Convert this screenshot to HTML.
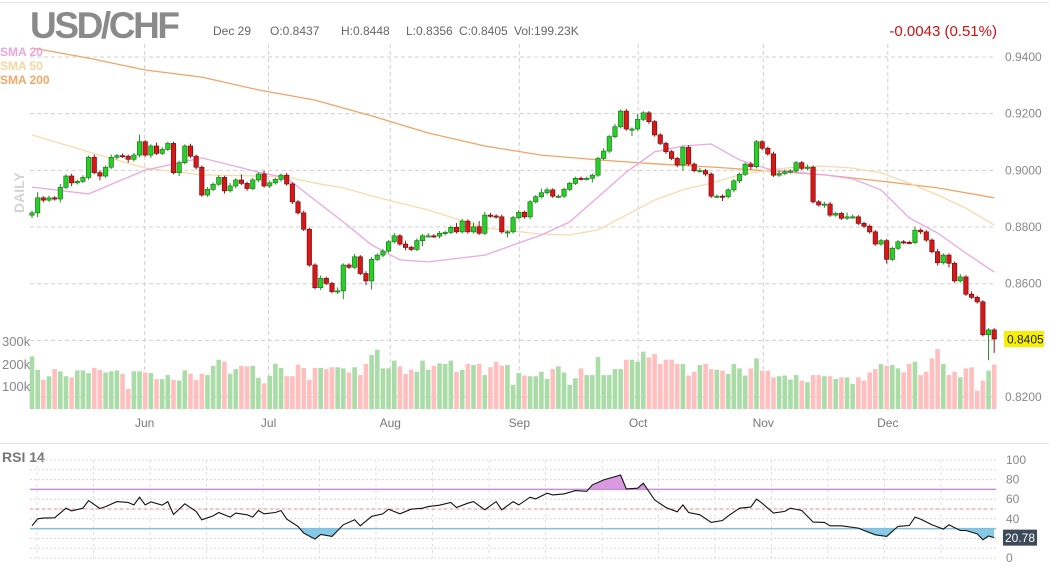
<!DOCTYPE html>
<html><head><meta charset="utf-8"><style>
html,body{margin:0;padding:0;background:#fff;width:1049px;height:573px;overflow:hidden}
svg{display:block;font-family:"Liberation Sans",sans-serif}
</style></head><body>
<svg id="chart" width="1049" height="573" viewBox="0 0 1049 573" xmlns="http://www.w3.org/2000/svg">
<line x1="0" y1="2.5" x2="1049" y2="2.5" stroke="#e6e6e6"/>
<g id="grid"></g>
<g id="vol"></g>
<g id="sma"></g>
<g id="candles"></g>
<text x="30" y="38" font-size="37" font-weight="bold" fill="#8a8a8a" textLength="150">USD/CHF</text>
<g font-size="12" fill="#666">
<text x="213" y="35">Dec 29</text>
<text x="270" y="35">O:0.8437</text>
<text x="341" y="35">H:0.8448</text>
<text x="406" y="35">L:0.8356</text>
<text x="459" y="35">C:0.8405</text>
<text x="514" y="35">Vol:199.23K</text>
</g>
<text x="997" y="36" text-anchor="end" font-size="15" fill="#cc1111">-0.0043 (0.51%)</text>
<g font-size="12" font-weight="bold">
<text x="0" y="56" fill="#eaa6dc">SMA 20</text>
<text x="0" y="70" fill="#f2d79e">SMA 50</text>
<text x="0" y="84" fill="#f2a766">SMA 200</text>
</g>
<text transform="translate(24,213) rotate(-90)" font-size="14" font-weight="bold" fill="#d4d4d4">DAILY</text>
<g font-size="13" fill="#888">
<text x="2" y="346">300k</text>
<text x="2" y="369">200k</text>
<text x="2" y="391">100k</text>
</g>
<g id="yaxis" font-size="12" fill="#888"></g>
<g id="xaxis" font-size="12" fill="#777" text-anchor="middle"></g>
<line x1="0" y1="443.5" x2="1049" y2="443.5" stroke="#e3e3e3"/>
<text x="2" y="462" font-size="14" font-weight="bold" fill="#777">RSI 14</text>
<g id="rsi"></g>
</svg>
<script>
const closes=[0.8850,0.8903,0.8895,0.8903,0.8899,0.8940,0.8980,0.8956,0.8961,0.8975,
0.9046,0.8992,0.8980,0.9011,0.9046,0.9052,0.9050,0.9039,0.9054,0.9101,
0.9054,0.9086,0.9060,0.9074,0.9095,0.8992,0.9027,0.9086,0.9050,0.9011,
0.8913,0.8933,0.8951,0.8975,0.8928,0.8945,0.8966,0.8954,0.8936,0.8966,
0.8987,0.8945,0.8956,0.8968,0.8983,0.8952,0.8889,0.8850,0.8792,0.8666,
0.8586,0.8619,0.8601,0.8572,0.8575,0.8666,0.8658,0.8695,0.8636,0.8610,
0.8686,0.8701,0.8715,0.8748,0.8769,0.8740,0.8728,0.8721,0.8752,0.8769,
0.8769,0.8768,0.8778,0.8781,0.8799,0.8783,0.8821,0.8783,0.8801,0.8778,
0.8842,0.8839,0.8836,0.8783,0.8783,0.8833,0.8852,0.8836,0.8889,0.8907,
0.8921,0.8931,0.8909,0.8909,0.8933,0.8954,0.8972,0.8971,0.8972,0.8983,
0.9042,0.9068,0.9119,0.9154,0.9209,0.9146,0.9146,0.9180,0.9203,0.9172,
0.9125,0.9095,0.9066,0.9042,0.9019,0.9081,0.9022,0.8999,0.8999,0.8987,
0.8909,0.8909,0.8907,0.8931,0.8963,0.8986,0.9022,0.9013,0.9101,0.9078,
0.9058,0.8983,0.8989,0.8995,0.8998,0.9027,0.9007,0.9011,0.8889,0.8878,
0.8881,0.8842,0.8848,0.8831,0.8836,0.8836,0.8813,0.8803,0.8783,0.8740,
0.8752,0.8686,0.8725,0.8748,0.8746,0.8745,0.8789,0.8783,0.8754,0.8713,
0.8674,0.8701,0.8672,0.8610,0.8624,0.8563,0.8552,0.8536,0.8420,0.8437,
0.8405];
const firstOpen=0.8842;
const wickHi=[8,20,6,8,6,12,6,8,6,8, 6,10,8,6,10,6,8,6,8,25, 6,6,12,8,6,6,8,6,8,6, 6,8,6,8,6,10,6,20,6,8, 6,12,8,6,6,8,6,6,8,6, 6,10,6,6,12,6,6,10,6,8, 8,6,8,6,10,6,12,6,8,6, 10,6,8,6,6,15,8,6,15,20, 12,8,6,8,6,6,8,6,6,6, 15,8,6,6,6,6,6,6,6,6, 6,10,6,10,6,8,6,20,6,6, 6,6,6,6,6,6,8,6,10,6, 6,6,6,6,6,6,6,8,6,6, 6,8,10,8,6,6,6,10,6,6, 8,8,6,6,15,8,6,6,6,6, 6,6,6,6,6,6,12,6,6,6, 10,6,6,6,10,6,10,6,6,6, 6,8,6,6,8,6,6,10,8,12, 11];
const wickLo=[10,15,8,6,6,12,6,12,6,6, 8,6,15,6,6,8,6,12,8,8, 6,10,6,6,6,6,12,6,6,8, 6,6,6,6,10,6,8,6,8,6, 8,6,8,6,8,6,8,6,6,6, 6,8,6,6,8,30,6,6,6,15, 30,6,8,6,6,6,10,6,6,20, 6,6,8,8,6,6,6,6,6,6, 6,6,6,6,20,6,6,6,8,6, 6,6,6,6,6,6,6,6,6,15, 6,6,6,6,6,6,25,6,6,8, 6,6,8,6,8,20,6,6,6,8, 6,6,15,6,8,8,6,10,6,6, 6,6,6,6,6,6,6,6,6,6, 10,6,6,6,6,6,6,6,6,6, 6,15,6,6,6,6,6,8,6,6, 10,6,15,6,6,6,6,6,6,90, 49];
const volumes=[236,176,131,147,179,169,147,142,173,173,161,184,176,164,169,173,158,90,169,169,
164,161,134,134,152,131,128,173,158,131,158,152,194,221,213,158,179,194,191,194,
140,115,149,203,184,147,147,199,184,131,184,184,179,
187,187,182,164,187,152,202,242,266,182,
182,217,191,157,176,167,217,176,194,205,
202,217,167,176,202,197,202,152,187,212,
194,197,108,161,150,147,147,167,135,179,
191,164,108,138,182,152,152,233,152,152,
179,179,221,221,212,257,232,247,202,221,
221,202,202,150,167,197,202,179,176,172,
157,202,182,150,182,227,172,172,142,147,
150,132,152,127,120,152,152,147,147,135,
142,142,112,142,127,164,179,202,194,197,
182,164,202,212,152,167,227,269,202,152,
167,142,182,187,82,127,172,199];
const smaIdx=[0,10,20,30,40,45,50,55,60,65,70,80,90,95,100,105,110,115,120,125,130,135,140,145,150,155,160,165,170];
const sma20=[0.8941,0.8917,0.9001,0.9044,0.8994,0.8973,0.8895,0.8818,0.8737,0.8684,0.8677,0.8701,0.8772,0.8818,0.8906,0.8994,0.9065,0.9086,0.9093,0.9037,0.9005,0.8994,0.8984,0.8970,0.8931,0.8832,0.8779,0.8708,0.8641];
const sma50=[0.9125,0.9065,0.9008,0.8984,0.8980,0.8977,0.8955,0.8938,0.8910,0.8885,0.8860,0.8797,0.8775,0.8772,0.8790,0.8842,0.8895,0.8931,0.8955,0.8984,0.9001,0.9012,0.9015,0.9008,0.8991,0.8955,0.8913,0.8867,0.8807];
const sma200Idx=[0,10,20,30,40,50,60,70,80,90,100,105,110,120,130,140,150,160,170];
const sma200=[0.9432,0.9396,0.9354,0.9329,0.9284,0.9248,0.9192,0.9132,0.9086,0.9054,0.9037,0.9030,0.9023,0.9012,0.8998,0.8984,0.8962,0.8938,0.8903];
const priceTicks=[0.94,0.92,0.90,0.88,0.86,0.84,0.82];
const monthLabels=["Jun","Jul","Aug","Sep","Oct","Nov","Dec"];
const monthIdx=[19.9,41.8,63.3,86.1,107.1,129.2,151.2];
const rsiIdx=[0,1,2,4,6,7,9,10,12,13,15,17,18,19,20,21,23,24,25,27,29,30,32,33,35,36,38,39,40,41,43,44,45,47,48,50,51,53,55,57,58,60,62,63,65,67,69,70,72,74,75,77,78,80,82,83,85,86,88,89,91,92,94,96,98,99,101,104,105,107,108,110,112,114,115,116,118,120,122,123,125,127,128,129,131,133,134,136,138,140,141,143,146,147,149,151,153,155,156,157,159,161,162,164,165,167,168,169,170];
const rsiVals=[32.9,40,40.7,41,50.8,48.1,50.8,58.6,50.5,52.5,57.6,56.6,54.2,62,54.2,57.3,53.9,57.6,44.4,55.3,47.5,39,43,46.4,41.7,45.8,44.1,41.7,48.5,45.1,46.4,48.5,39.7,32.2,25.4,19.3,24.1,22,33.9,39,32.9,42.4,45.1,49.8,45.1,49.8,50.8,52.5,53.9,56.6,51.5,55.9,57.6,49.2,57.6,49.2,57.6,54.2,62,60.3,66.1,64.4,65.4,68.8,68.1,74.6,79.7,84.7,70.5,71.2,76.3,59.3,51.5,47.1,54.2,46.4,44.1,36.3,38.3,43,50.8,51.9,60,55.9,45.8,47.5,50.8,48.5,36.6,36.3,32.9,32.9,30.5,28.1,23.7,22,32.2,33.2,41.7,39.7,33.9,29.5,33.9,28.1,28.1,24.7,18.6,22.4,20.78];
const rsiTicks=[100,80,60,40,0];
const rsiLevels=[70,50,30];

const NS="http://www.w3.org/2000/svg";
const xOf=i=>32+i*5.66;
const yP=p=>57+(0.94-p)*2834;
const yV=v=>409-v*0.223;
const yR=r=>558-r*0.98;
function mk(tag,attrs,parent){const e=document.createElementNS(NS,tag);for(const k in attrs)e.setAttribute(k,attrs[k]);parent.appendChild(e);return e;}

const grid=document.getElementById('grid');
priceTicks.forEach(p=>{
  const l=mk('line',{x1:30,x2:996,y1:yP(p),y2:yP(p),stroke:'#d0d0d0','stroke-dasharray':'4,3'},grid);
  
  
});
monthIdx.forEach(m=>{
  const l=mk('line',{x1:xOf(m),x2:xOf(m),y1:44,y2:410,stroke:'#d0d0d0','stroke-dasharray':'4,3'},grid);
  
  
});
const yaxis=document.getElementById('yaxis');
priceTicks.forEach(p=>{
  const t=mk('text',{x:1005,y:yP(p)+4},yaxis);t.textContent=p.toFixed(4);
  
  
});
const xaxis=document.getElementById('xaxis');
monthLabels.forEach((m,k)=>{
  const t=mk('text',{x:xOf(monthIdx[k]),y:427},xaxis);t.textContent=m;
  
  
});

const opens=closes.map((c,i)=>i===0?firstOpen:closes[i-1]);
const vol=document.getElementById('vol');
volumes.forEach((v,i)=>{
  const up=closes[i]>=opens[i];
  const r=mk('rect',{x:xOf(i)-2.3,y:yV(v),width:4.6,height:409-yV(v),fill:up?'#a9dca6':'#ffbfbf'},vol);
  
  
});

const sma=document.getElementById('sma');
function line(idx,vals,color,name){
  const d=idx.map((ix,k)=>(k?'L':'M')+xOf(ix).toFixed(1)+','+yP(vals[k]).toFixed(1)).join(' ');
  const p=mk('path',{d:d,fill:'none',stroke:color,'stroke-width':1.3},sma);
  
  
}
line(sma200Idx,sma200,'#f0a466','sma200-line');
line(smaIdx,sma50,'#f5dcaa','sma50-line');
line(smaIdx,sma20,'#eaa8e0','sma20-line');

const cg=document.getElementById('candles');
closes.forEach((c,i)=>{
  const o=opens[i];const up=c>=o;
  const top=Math.max(o,c),bot=Math.min(o,c);
  const hi=top+wickHi[i]/10000,lo=bot-wickLo[i]/10000;
  const x=xOf(i);
  const g=mk('g',{},cg);
  
  
  mk('line',{x1:x,x2:x,y1:yP(hi),y2:yP(lo),stroke:up?'#2a8a2a':'#8a1a1a','stroke-width':1},g);
  const y1=yP(top),h=Math.max(1.2,yP(bot)-y1);
  mk('rect',{x:x-2.2,y:y1,width:4.4,height:h,fill:up?'#26d026':'#d81818',stroke:up?'#1c7a1c':'#7a1010','stroke-width':0.7},g);
});
// last price tag
const tag=mk('rect',{x:1004,y:yP(closes[170])-8,width:40,height:16,fill:'#f7f000'},yaxis);


const tt=mk('text',{x:1007,y:yP(closes[170])+4.5,fill:'#222'},yaxis);tt.textContent=closes[170].toFixed(4);



// RSI
const rg=document.getElementById('rsi');
for(let v=0;v<=100;v+=10){
  const l=mk('line',{x1:30,x2:996,y1:yR(v),y2:yR(v),stroke:'#d8d8d8','stroke-dasharray':'2,2'},rg);
  
  
}
for(let x=37;x<996;x+=56.5){
  const l=mk('line',{x1:x,x2:x,y1:yR(100),y2:yR(0),stroke:'#e0e0e0','stroke-dasharray':'3,3'},rg);
  
  
}
const pts=rsiIdx.map((ix,k)=>[xOf(ix),yR(rsiVals[k])]);
const lineD=pts.map((p,k)=>(k?'L':'M')+p[0].toFixed(1)+','+p[1].toFixed(1)).join(' ');
const defs=mk('defs',{},rg);
const c1=mk('clipPath',{id:'above'},defs);mk('rect',{x:0,y:0,width:1049,height:yR(70)},c1);
const c2=mk('clipPath',{id:'below'},defs);mk('rect',{x:0,y:yR(30),width:1049,height:100},c2);
const x0=pts[0][0],xn=pts[pts.length-1][0];
const fa=mk('path',{d:lineD+` L${xn},${yR(70)} L${x0},${yR(70)} Z`,fill:'#d99ae0','clip-path':'url(#above)'},rg);


const fb=mk('path',{d:lineD+` L${xn},${yR(30)} L${x0},${yR(30)} Z`,fill:'#86c9e6','clip-path':'url(#below)'},rg);


const lvlStyle={70:['#c98fd6','none',1.5],50:['#f08a8a','3,3',1],30:['#7fbfe0','none',1.5]};
rsiLevels.forEach(v=>{
  const s=lvlStyle[v];
  const l=mk('line',{x1:30,x2:996,y1:yR(v),y2:yR(v),stroke:s[0],'stroke-dasharray':s[1],'stroke-width':s[2]},rg);
  
  
});
const rl=mk('path',{d:lineD,fill:'none',stroke:'#111','stroke-width':1.1},rg);


rsiTicks.forEach(v=>{
  const t=mk('text',{x:1006,y:yR(v)+4,'font-size':12,fill:'#888'},rg);t.textContent=v;
  
  
});
const last=rsiVals[rsiVals.length-1];
const rb=mk('rect',{x:1003,y:yR(last)-8,width:34,height:16,fill:'#3c4a5a'},rg);


const rt=mk('text',{x:1005,y:yR(last)+4.5,'font-size':12,fill:'#fff'},rg);rt.textContent=last.toFixed(2);


</script>
</body></html>
